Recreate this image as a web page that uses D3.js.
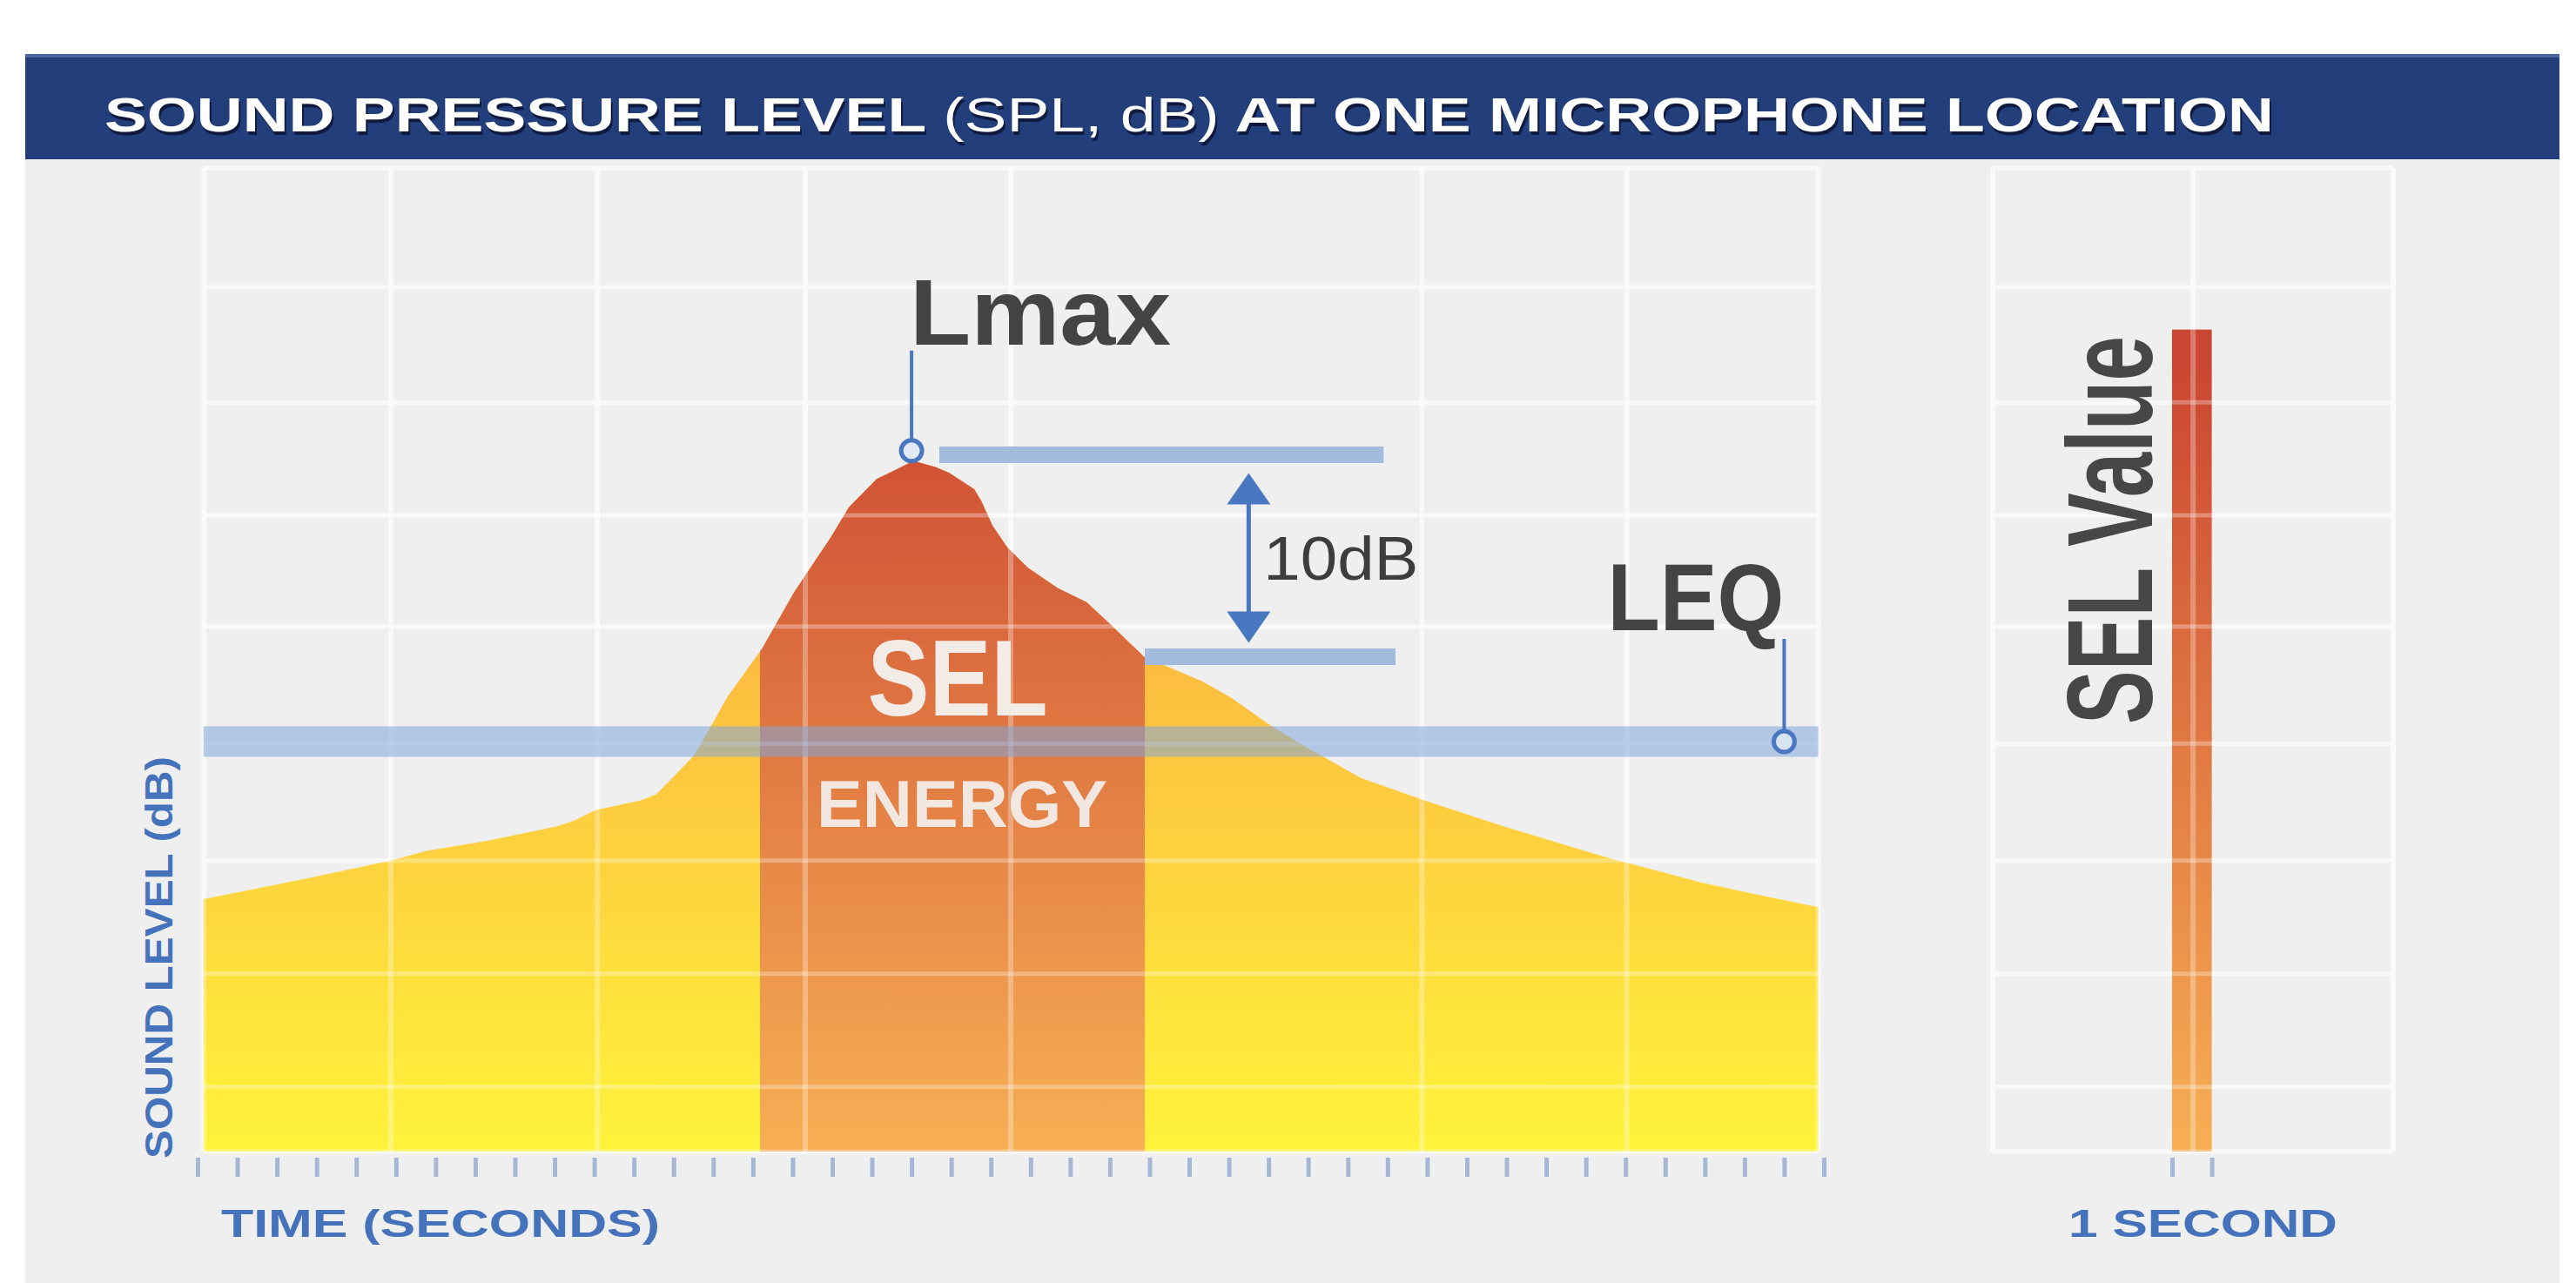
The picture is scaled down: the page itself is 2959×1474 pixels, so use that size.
<!DOCTYPE html>
<html>
<head>
<meta charset="utf-8">
<script src="https://cdn.jsdelivr.net/npm/d3@7"></script>
<style>
  html, body { margin: 0; padding: 0; background: #fff; }
  svg { display: block; }
  text { font-family: "Liberation Sans", Arial, sans-serif; }
</style>
</head>
<body>
<div id="chart"></div>
<script>
// Sound level trace at the microphone (time in seconds, level in dB)
const timeSec = [0.15, 2.7, 4.87, 5.8, 7.33, 9.05, 9.51, 10.03, 11.2, 11.57,
  12.12, 12.51, 13.04, 13.35, 14.23, 15.04, 15.96, 16.42, 17.12, 18.05,
  18.6, 18.95, 19.58, 19.76, 20.04, 20.42, 20.94, 21.69, 22.41, 22.96,
  23.86, 25.31, 26.04, 27.05, 28.06, 29.33, 30.91, 32.93, 35.46, 37.96,
  39.14, 40.86];
const levelDb = [68.0, 69.0, 69.9, 70.4, 70.9, 71.6, 71.9, 72.4, 72.9, 73.2,
  74.3, 75.1, 76.9, 78.0, 80.4, 83.2, 85.9, 87.4, 88.8, 89.7,
  89.4, 89.1, 88.3, 87.7, 86.5, 85.4, 84.4, 83.4, 82.7, 81.7,
  80.0, 78.8, 78.0, 76.6, 75.4, 74.0, 72.9, 71.6, 70.1, 68.8,
  68.3, 67.6];

// Annotation values
const lmaxDb = 90;
const lmaxTime = 18.0;
const tenDownDb = 80;
const selStart = 14.18;
const selEnd = 23.88;
const leqDb = 75.8;
const leqMarkTime = 40.0;
const selValueDb = 96.2;

// Axis / grid values
const tickSeconds = d3.range(0, 42);
const gridTime = [0.15, 4.87, 10.08, 15.32, 20.5, 30.87, 36.03, 40.86];
const gridDb = [104.2, 98.3, 92.6, 87.0, 81.5, 75.7, 69.9, 64.3, 58.7, 55.5];
const panelGridTime = [-4.52, 0.53, 5.57];

const W = 2959, H = 1474;
const blue = "#4a78c0";
const labelBlue = "#4573bb";

const x = d3.scaleLinear().domain([0, 41]).range([227, 2095]);
const y = d3.scaleLinear().domain([55.5, 104.2]).range([1323, 193]);
const xr = d3.scaleLinear().domain([0, 1]).range([2495, 2540.6]);

const svg = d3.select("#chart").append("svg")
  .attr("width", W)
  .attr("height", H);

const defs = svg.append("defs");

function addGradient(id, y1, y2, c1, c2) {
  const g = defs.append("linearGradient")
    .attr("id", id)
    .attr("gradientUnits", "userSpaceOnUse")
    .attr("x1", 0).attr("x2", 0)
    .attr("y1", y1).attr("y2", y2);
  g.append("stop").attr("offset", "0%").attr("stop-color", c1);
  g.append("stop").attr("offset", "100%").attr("stop-color", c2);
}
addGradient("yellowFill", 740, 1323, "#fcbb40", "#fff33b");
addGradient("redFill", 420, 1323, "#cb4632", "#f7af54");

defs.append("clipPath").attr("id", "selClip")
  .append("rect")
  .attr("x", x(selStart))
  .attr("y", 0)
  .attr("width", x(selEnd) - x(selStart))
  .attr("height", H);

// Background panel and title bar
svg.append("rect")
  .attr("x", 29).attr("y", 183)
  .attr("width", 2911).attr("height", H - 183)
  .attr("fill", "#efefef");
svg.append("rect")
  .attr("x", 29).attr("y", 62)
  .attr("width", 2911).attr("height", 121)
  .attr("fill", "#223f7c");
svg.append("rect")
  .attr("x", 29).attr("y", 62)
  .attr("width", 2911).attr("height", 4)
  .attr("fill", "#4d66a3");

function titleText(dx, dy, color) {
  const t = svg.append("text")
    .attr("x", 120 + dx)
    .attr("y", 151 + dy)
    .attr("font-size", 56)
    .attr("fill", color)
    .attr("textLength", 2492)
    .attr("lengthAdjust", "spacingAndGlyphs")
    .style("white-space", "pre");
  t.append("tspan").attr("font-weight", "bold").text("SOUND PRESSURE LEVEL ");
  t.append("tspan").attr("font-weight", "normal").text("(SPL, dB)");
  t.append("tspan").attr("font-weight", "bold").text(" AT ONE MICROPHONE LOCATION");
}
titleText(2, 4, "#0f1a3e");
titleText(0, 0, "#ffffff");

// Grid
function drawGrid(color, opacity) {
  const g = svg.append("g")
    .attr("stroke", color)
    .attr("stroke-opacity", opacity);
  g.append("g").selectAll("line").data(gridDb).join("line")
    .attr("x1", x(gridTime[0])).attr("x2", x(gridTime[gridTime.length - 1]))
    .attr("y1", d => y(d)).attr("y2", d => y(d))
    .attr("stroke-width", 5);
  g.append("g").selectAll("line").data(gridTime).join("line")
    .attr("x1", d => x(d)).attr("x2", d => x(d))
    .attr("y1", y(gridDb[0])).attr("y2", y(gridDb[gridDb.length - 1]))
    .attr("stroke-width", 6);
  // right (1 second) panel
  g.append("g").selectAll("line").data(gridDb).join("line")
    .attr("x1", xr(panelGridTime[0])).attr("x2", xr(panelGridTime[2]))
    .attr("y1", d => y(d)).attr("y2", d => y(d))
    .attr("stroke-width", 5);
  g.append("g").selectAll("line").data(panelGridTime).join("line")
    .attr("x1", d => xr(d)).attr("x2", d => xr(d))
    .attr("y1", y(gridDb[0])).attr("y2", y(gridDb[gridDb.length - 1]))
    .attr("stroke-width", 6);
}
drawGrid("#f7f7f7", 1);

// Sound level area
const trace = timeSec.map((t, i) => ({ t: t, db: levelDb[i] }));
const area = d3.area()
  .x(d => x(d.t))
  .y0(y(55.5))
  .y1(d => y(d.db))
  .curve(d3.curveLinear);

svg.append("path")
  .datum(trace)
  .attr("d", area)
  .attr("fill", "url(#yellowFill)");

svg.append("path")
  .datum(trace)
  .attr("d", area)
  .attr("clip-path", "url(#selClip)")
  .attr("fill", "url(#redFill)");

// SEL value bar (1 second)
svg.append("rect")
  .attr("x", xr(0))
  .attr("y", y(selValueDb))
  .attr("width", xr(1) - xr(0))
  .attr("height", y(55.5) - y(selValueDb))
  .attr("fill", "url(#redFill)");

drawGrid("#ffffff", 0.3);

// LEQ band
svg.append("rect")
  .attr("x", x(gridTime[0]))
  .attr("y", y(leqDb) - 17.5)
  .attr("width", x(gridTime[gridTime.length - 1]) - x(gridTime[0]))
  .attr("height", 35)
  .attr("fill", "#7ea6da")
  .attr("fill-opacity", 0.55);

// Lmax and 10 dB down reference bars
svg.append("rect")
  .attr("x", x(18.7)).attr("y", y(lmaxDb) - 9.5)
  .attr("width", x(29.9) - x(18.7)).attr("height", 19)
  .attr("fill", "#a3bbdf");
svg.append("rect")
  .attr("x", x(selEnd)).attr("y", y(tenDownDb) - 9.5)
  .attr("width", x(30.2) - x(selEnd)).attr("height", 19)
  .attr("fill", "#a3bbdf");

// 10 dB double arrow
const ax = x(26.5);
const aTop = y(lmaxDb) + 21;
const aBot = y(tenDownDb) - 16;
svg.append("line")
  .attr("x1", ax).attr("x2", ax)
  .attr("y1", aTop + 20).attr("y2", aBot - 20)
  .attr("stroke", blue).attr("stroke-width", 5);
svg.append("path")
  .attr("d", `M${ax},${aTop} L${ax + 25},${aTop + 36} L${ax - 25},${aTop + 36} Z`)
  .attr("fill", blue);
svg.append("path")
  .attr("d", `M${ax},${aBot} L${ax + 25},${aBot - 36} L${ax - 25},${aBot - 36} Z`)
  .attr("fill", blue);
svg.append("text")
  .attr("x", ax + 17).attr("y", 666)
  .attr("font-size", 70)
  .attr("fill", "#3d3d3d")
  .attr("textLength", 178)
  .attr("lengthAdjust", "spacingAndGlyphs")
  .text("10dB");

// Lmax marker
const lmx = x(lmaxTime), lmy = y(lmaxDb + 0.2);
svg.append("line")
  .attr("x1", lmx).attr("x2", lmx)
  .attr("y1", lmy - 115).attr("y2", lmy)
  .attr("stroke", blue).attr("stroke-width", 4);
svg.append("circle")
  .attr("cx", lmx).attr("cy", lmy).attr("r", 12)
  .attr("fill", "#e2eaf6").attr("stroke", blue).attr("stroke-width", 5);
svg.append("text")
  .attr("x", lmx - 2).attr("y", 396)
  .attr("font-size", 108)
  .attr("font-weight", "bold")
  .attr("fill", "#444")
  .attr("textLength", 300)
  .attr("lengthAdjust", "spacingAndGlyphs")
  .text("Lmax");

// LEQ marker
const lqx = x(leqMarkTime), lqy = y(leqDb);
svg.append("line")
  .attr("x1", lqx).attr("x2", lqx)
  .attr("y1", lqy - 118).attr("y2", lqy)
  .attr("stroke", blue).attr("stroke-width", 4);
svg.append("circle")
  .attr("cx", lqx).attr("cy", lqy).attr("r", 12)
  .attr("fill", "#d9e4f3").attr("stroke", blue).attr("stroke-width", 5);
svg.append("text")
  .attr("x", lqx).attr("y", 724)
  .attr("text-anchor", "end")
  .attr("font-size", 110)
  .attr("font-weight", "bold")
  .attr("fill", "#444")
  .attr("textLength", 203)
  .attr("lengthAdjust", "spacingAndGlyphs")
  .text("LEQ");

// SEL energy labels
const selMid = (x(selStart) + x(selEnd)) / 2;
svg.append("text")
  .attr("x", selMid + 6).attr("y", 822)
  .attr("text-anchor", "middle")
  .attr("font-size", 124)
  .attr("font-weight", "bold")
  .attr("fill", "#f3ebe6")
  .attr("textLength", 207)
  .attr("lengthAdjust", "spacingAndGlyphs")
  .text("SEL");
svg.append("text")
  .attr("x", selMid + 11).attr("y", 950)
  .attr("text-anchor", "middle")
  .attr("font-size", 76)
  .attr("font-weight", "bold")
  .attr("fill", "#f3e8e1")
  .attr("textLength", 334)
  .attr("lengthAdjust", "spacingAndGlyphs")
  .text("ENERGY");

// SEL Value label
svg.append("text")
  .attr("transform", `translate(${xr(0) - 23},832) rotate(-90)`)
  .attr("font-size", 140)
  .attr("font-weight", "bold")
  .attr("fill", "#474747")
  .attr("textLength", 446)
  .attr("lengthAdjust", "spacingAndGlyphs")
  .text("SEL Value");

// Time ticks
const tickStyle = g => {
  g.select(".domain").remove();
  g.selectAll(".tick line")
    .attr("stroke", "#a6b7d6")
    .attr("stroke-width", 5);
};
svg.append("g")
  .attr("transform", "translate(0,1330)")
  .call(d3.axisBottom(x).tickValues(tickSeconds).tickSize(22).tickFormat(""))
  .call(tickStyle);
svg.append("g")
  .attr("transform", "translate(0,1330)")
  .call(d3.axisBottom(xr).tickValues([0, 1]).tickSize(22).tickFormat(""))
  .call(tickStyle);

// Axis labels
svg.append("text")
  .attr("x", 254).attr("y", 1421)
  .attr("font-size", 44)
  .attr("font-weight", "bold")
  .attr("fill", labelBlue)
  .attr("textLength", 504)
  .attr("lengthAdjust", "spacingAndGlyphs")
  .text("TIME (SECONDS)");
svg.append("text")
  .attr("x", 2376).attr("y", 1421)
  .attr("font-size", 44)
  .attr("font-weight", "bold")
  .attr("fill", labelBlue)
  .attr("textLength", 309)
  .attr("lengthAdjust", "spacingAndGlyphs")
  .text("1 SECOND");
svg.append("text")
  .attr("transform", "translate(198,1331) rotate(-90)")
  .attr("font-size", 44)
  .attr("font-weight", "bold")
  .attr("fill", labelBlue)
  .attr("textLength", 462)
  .attr("lengthAdjust", "spacingAndGlyphs")
  .text("SOUND LEVEL (dB)");
</script>
</body>
</html>
